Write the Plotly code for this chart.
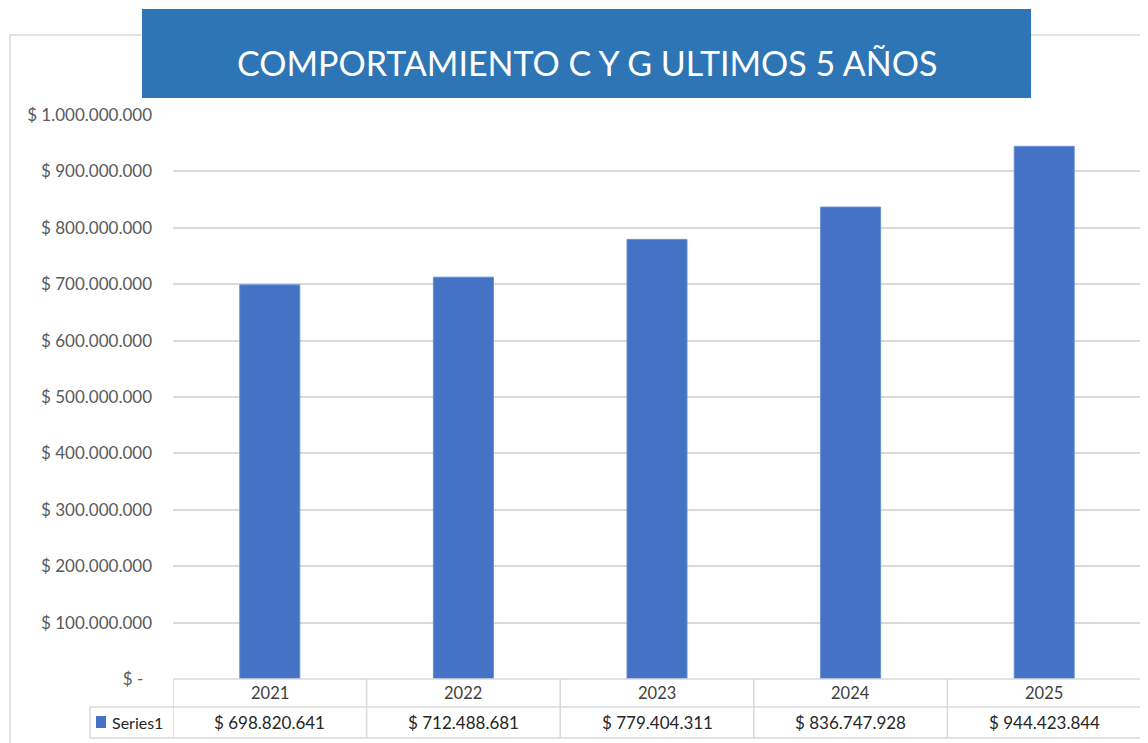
import plotly.graph_objects as go

years = ["2021", "2022", "2023", "2024", "2025"]
values = [698820641, 712488681, 779404311, 836747928, 944423844]
value_labels = ["$ 698.820.641", "$ 712.488.681", "$ 779.404.311", "$ 836.747.928", "$ 944.423.844"]
series_name = "Series1"
y_tickvals = [0, 100000000, 200000000, 300000000, 400000000, 500000000,
              600000000, 700000000, 800000000, 900000000, 1000000000]
y_ticktext = ["$ -  ", "$ 100.000.000", "$ 200.000.000", "$ 300.000.000", "$ 400.000.000",
              "$ 500.000.000", "$ 600.000.000", "$ 700.000.000", "$ 800.000.000",
              "$ 900.000.000", "$ 1.000.000.000"]
title_text = "COMPORTAMIENTO C Y G ULTIMOS 5 AÑOS"

# page offset of the figure inside the browser page (body margin)
OFF = 8
W, H = 1148 - OFF, 743 - OFF
L, R, T, B = 173 - OFF, 1148 - 1141, 115 - OFF, 743 - 679
PW, PH = W - L - R, H - T - B

def px(x):
    return (x - OFF - L) / PW

def py(y):
    return (H - B - (y - OFF)) / PH

GRID = "#D9D9D9"
FONT = "Lato"

fig = go.Figure()
fig.add_trace(go.Bar(
    x=years, y=values, name=series_name,
    marker=dict(color="#4472C4", line=dict(color="#6A8FD3", width=1)),
    width=0.31, showlegend=False,
))

shapes = []
# outer chart frame
shapes.append(dict(type="rect", xref="paper", yref="paper",
                   x0=px(10), x1=px(1170), y0=py(770), y1=py(35),
                   line=dict(color=GRID, width=1.5), fillcolor="rgba(0,0,0,0)", layer="below"))
# title box
shapes.append(dict(type="rect", xref="paper", yref="paper",
                   x0=px(142), x1=px(1031), y0=py(98), y1=py(9),
                   line=dict(color="#2E75B6", width=0), fillcolor="#2E75B6", layer="above"))
# data table lines
n = len(years)
row1_top, row2_top, row2_bot = 679, 707, 738
for yy, x0 in [(row1_top, 173), (row2_top, 90), (row2_bot, 90)]:
    shapes.append(dict(type="line", xref="paper", yref="paper",
                       x0=px(x0), x1=px(1141), y0=py(yy), y1=py(yy),
                       line=dict(color=GRID, width=1.5)))
for i in range(n + 1):
    xv = i - 0.5
    shapes.append(dict(type="line", xref="x", yref="paper",
                       x0=xv, x1=xv, y0=py(row1_top), y1=py(row2_bot),
                       line=dict(color=GRID, width=1.5)))
shapes.append(dict(type="line", xref="paper", yref="paper",
                   x0=px(90), x1=px(90), y0=py(row2_top), y1=py(row2_bot),
                   line=dict(color=GRID, width=1.5)))
# legend key
shapes.append(dict(type="rect", xref="paper", yref="paper",
                   x0=px(96), x1=px(106), y0=py(728), y1=py(716),
                   line=dict(width=0), fillcolor="#4472C4"))

annotations = []
for i, (yr, lab) in enumerate(zip(years, value_labels)):
    annotations.append(dict(x=i, y=py(693), xref="x", yref="paper", text=yr,
                            showarrow=False, font=dict(family=FONT, size=16.5, color="#404040"),
                            xanchor="center", yanchor="middle"))
    annotations.append(dict(x=i, y=py(722), xref="x", yref="paper", text=lab,
                            showarrow=False, font=dict(family=FONT, size=17, color="#262626"),
                            xanchor="center", yanchor="middle"))
annotations.append(dict(x=px(110), y=py(722), xref="paper", yref="paper", text=series_name,
                        showarrow=False, font=dict(family=FONT, size=16, color="#262626"),
                        xanchor="left", yanchor="middle"))
annotations.append(dict(x=px(587), y=py(63), xref="paper", yref="paper", text=title_text,
                        showarrow=False,
                        font=dict(family=FONT, size=34, color="white"),
                        xanchor="center", yanchor="middle"))

fig.update_layout(
    width=W, height=H,
    margin=dict(l=L, r=R, t=T, b=B, pad=0),
    paper_bgcolor="white", plot_bgcolor="white",
    shapes=shapes, annotations=annotations,
    xaxis=dict(type="category", range=[-0.5, n - 0.5], showticklabels=False,
               showgrid=False, zeroline=False, showline=False, ticks=""),
    yaxis=dict(range=[0, 1000000000], tickvals=y_tickvals, ticktext=y_ticktext,
               showgrid=True, gridcolor=GRID, gridwidth=1.5, zeroline=False,
               showline=False, ticks="", ticklabelstandoff=20,
               tickfont=dict(family=FONT, size=17, color="#595959")),
    bargap=0.69,
)

fig.write_html("out.html")
